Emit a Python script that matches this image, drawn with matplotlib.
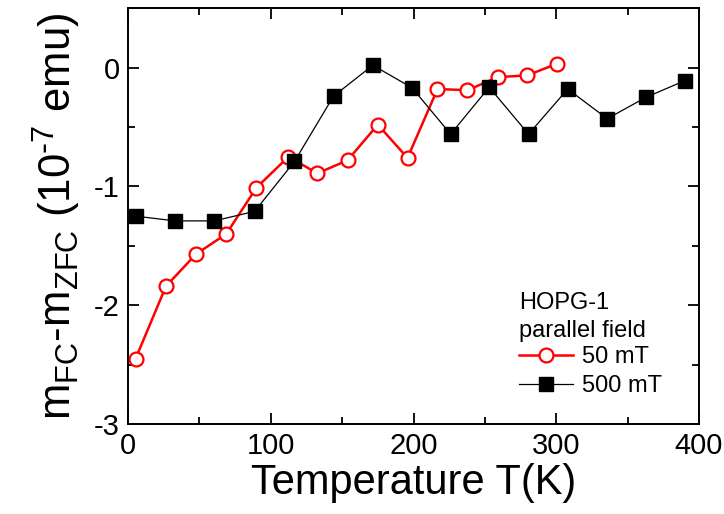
import matplotlib
matplotlib.use("Agg")
import matplotlib.pyplot as plt
from matplotlib.ticker import MultipleLocator

plt.rcParams['font.family'] = ['Liberation Sans', 'DejaVu Sans']
plt.rcParams['mathtext.default'] = 'regular'
plt.rcParams['axes.unicode_minus'] = False

T_50 = [5.3, 26.6, 47.6, 68.8, 90, 112.4, 132.6, 153.8, 175, 195.8, 216.8, 237.8, 259, 279.7, 300.7]
m_50 = [-2.45, -1.84, -1.57, -1.40, -1.01, -0.75, -0.89, -0.78, -0.48, -0.76, -0.18, -0.19, -0.08, -0.065, 0.034]

T_500 = [5.3, 33, 60.4, 88.7, 116.6, 144, 171.5, 199, 226, 253, 280.6, 308, 335.7, 362.8, 390]
m_500 = [-1.25, -1.29, -1.29, -1.21, -0.79, -0.24, 0.02, -0.17, -0.56, -0.165, -0.56, -0.18, -0.43, -0.25, -0.11]

legend_title = "HOPG-1\nparallel field"
labels = ["50 mT", "500 mT"]

fig = plt.figure(figsize=(7.24, 5.14), dpi=100)
ax = fig.add_axes([0.1768, 0.175, 0.7887, 0.809])

ax.plot(T_50, m_50, color='red', lw=1.8, marker='o', ms=10, mfc='white', mec='red', mew=1.6, label=labels[0])
ax.plot(T_500, m_500, color='black', lw=0.9, marker='s', ms=9.5, mfc='black', mec='black', label=labels[1])

ax.set_xlim(0, 400)
ax.set_ylim(-3, 0.5)
ax.xaxis.set_major_locator(MultipleLocator(100))
ax.xaxis.set_minor_locator(MultipleLocator(50))
ax.yaxis.set_major_locator(MultipleLocator(1))
ax.yaxis.set_minor_locator(MultipleLocator(0.5))
ax.tick_params(which='both', direction='in', top=True, right=True, width=1.3, labelsize=21)
ax.tick_params(which='major', length=8, pad=6)
ax.tick_params(which='minor', length=5)
for s in ax.spines.values():
    s.set_linewidth(1.4)

ax.set_xlabel('Temperature T(K)', fontsize=30, labelpad=2)
ax.set_ylabel(r'm$_{FC}$-m$_{ZFC}$ (10$^{\text{-}7}$ emu)', fontsize=31.5, labelpad=8)

leg = ax.legend(loc='lower left', bbox_to_anchor=(0.685, 0.065), frameon=False, fontsize=17,
                title=legend_title, title_fontsize=17, alignment='left',
                handlelength=2.3, handletextpad=0.35, labelspacing=0.3, borderpad=0.0,
                borderaxespad=0.0)
leg.get_title().set_linespacing(1.35)
leg._legend_box.sep = 3

fig.savefig('out.png', dpi=100)
